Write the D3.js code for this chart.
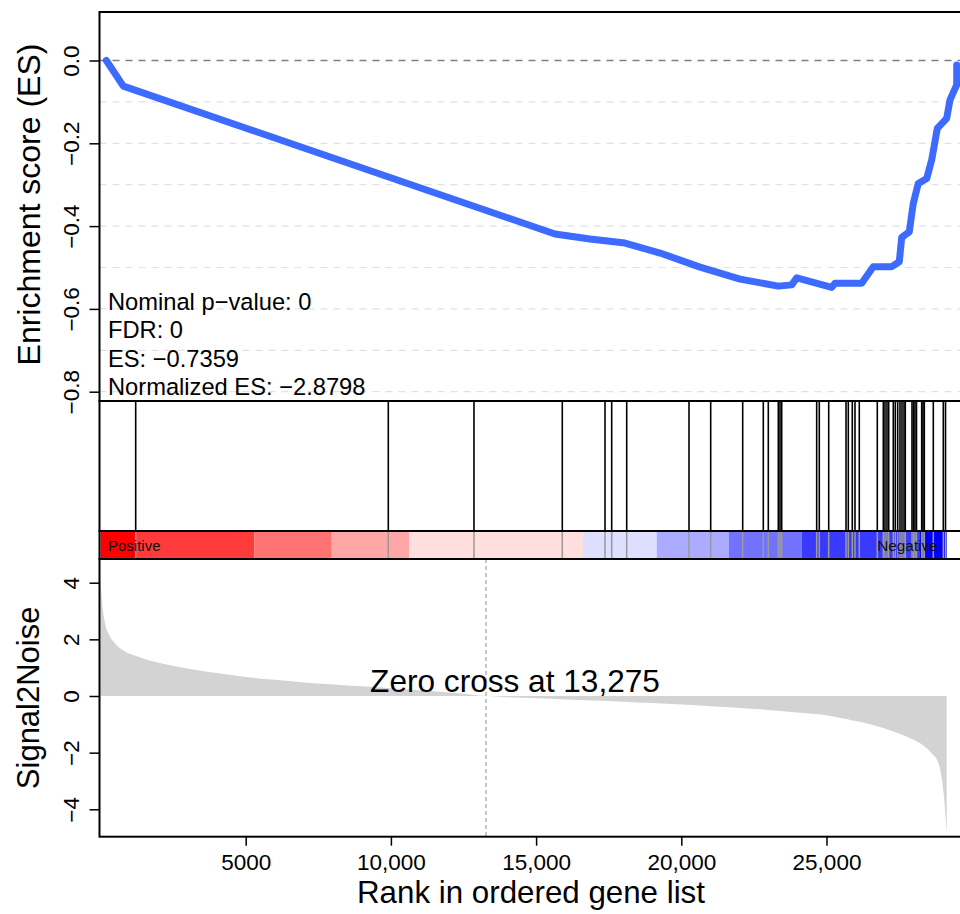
<!DOCTYPE html>
<html>
<head>
<meta charset="utf-8">
<script src="https://cdn.jsdelivr.net/npm/d3@7"></script>
<style>
  html, body { margin: 0; padding: 0; background: #fff; }
  svg { display: block; font-family: "Liberation Sans", Arial, Helvetica, sans-serif; }
</style>
</head>
<body>
<svg id="chart" width="960" height="914"></svg>
<script>
// ---------------- DATA ----------------
// Running enrichment score (rank in ordered list, ES)
const esRank  = [200, 785, 15649, 16856, 18061, 19267, 20645, 22022, 23340, 23802, 23974, 25179, 25293, 26212, 26611, 27245, 27507, 27590, 27851, 27937, 27989, 28161, 28451, 28623, 28816, 29139, 29253, 29484, 29484];
const esValue = [0, -0.062, -0.419, -0.431, -0.441, -0.465, -0.499, -0.528, -0.545, -0.542, -0.525, -0.548, -0.538, -0.538, -0.498, -0.498, -0.486, -0.427, -0.414, -0.370, -0.345, -0.297, -0.285, -0.240, -0.164, -0.140, -0.095, -0.059, -0.011];

// Ranks of gene-set members (hits)
const hitRanks = [1212, 9910, 12861, 15902, 17373, 17603, 18120, 20265, 21012, 22114, 22824, 22996, 23340, 23399, 23457,
  24662, 24752, 25076, 25672, 25751, 25888, 25981, 26129, 26749, 26956, 27014, 27083, 27142, 27300, 27369, 27452,
  27531, 27600, 27669, 27713, 27944, 27996, 28047, 28099, 28278, 28323, 28368, 28678, 29022, 29098];

// Ranked list metric (Signal2Noise)
const s2nRank  = [0, 40, 150, 300, 500, 800, 1200, 1600, 2200, 3000, 4000, 5000, 6000, 7000, 8000, 9000, 10000, 11000, 12000, 13275,
  14000, 15000, 16000, 17000, 18000, 19000, 20000, 21000, 22000, 23000, 24000, 25000, 25400, 26500, 27300, 27900, 28300, 28600, 28850, 28960, 29050, 29100, 29139];
const s2nValue = [4.2, 3.5, 2.6, 2.15, 1.85, 1.6, 1.42, 1.28, 1.13, 0.97, 0.81, 0.67, 0.57, 0.48, 0.41, 0.34, 0.27, 0.2, 0.12, 0,
  -0.04, -0.08, -0.12, -0.16, -0.2, -0.25, -0.3, -0.36, -0.42, -0.49, -0.58, -0.68, -0.76, -1.0, -1.25, -1.5, -1.72, -2.0, -2.35, -2.85, -3.6, -4.3, -4.9];

// Colour bar segments (start/end ranks) and colours
const barStart  = [0, 1212, 5296, 7961, 10634, 16615, 19153, 21642, 24146, 28220];
const barEnd    = [1212, 5296, 7961, 10634, 16615, 19153, 21642, 24146, 28220, 29139];
const barColors = ["#FF0000", "#FF3A3A", "#FF7272", "#FFA6A6", "#FFDEDE", "#DEDEFF", "#ABABFF", "#7272FF", "#3A3AFF", "#0000FF"];

const zeroCross = 13275;
const esTicks = [0, -0.2, -0.4, -0.6, -0.8];
const esTickLabels = ["0.0", "\u22120.2", "\u22120.4", "\u22120.6", "\u22120.8"];
const esGrid = [-0.1, -0.2, -0.3, -0.4, -0.5, -0.6, -0.7, -0.8];
const s2nTicks = [4, 2, 0, -2, -4];
const s2nTickLabels = ["4", "2", "0", "\u22122", "\u22124"];
const rankTicks = [5000, 10000, 15000, 20000, 25000];
const rankTickLabels = ["5000", "10,000", "15,000", "20,000", "25,000"];
const statLines = ["Nominal p\u2212value: 0", "FDR: 0", "ES: \u22120.7359", "Normalized ES: \u22122.8798"];

// ---------------- LAYOUT ----------------
const svg = d3.select("#chart");
svg.append("rect").attr("width", 960).attr("height", 914).attr("fill", "#fff");

const L = 99.5, R = 980;
const top1 = 12, bot1 = 401, bot2 = 531, bot3 = 559, bot4 = 836.7;

const x = d3.scaleLinear().domain([0, 30000]).range([100.5, 100.5 + 30000 * 0.02904]);
const yES = d3.scaleLinear().domain([0, -0.8]).range([60.5, 391.7]);
const yS = d3.scaleLinear().domain([4, -4]).range([582.7, 809.3]);

svg.append("clipPath").attr("id", "clipTop")
  .append("rect").attr("x", L).attr("y", top1).attr("width", R - L).attr("height", bot1 - top1);

// ----- Top panel: grid -----
const g1 = svg.append("g");
g1.selectAll("line.grid").data(esGrid).join("line")
  .attr("x1", L).attr("x2", R)
  .attr("y1", d => yES(d)).attr("y2", d => yES(d))
  .attr("stroke", "#e2e2e2").attr("stroke-width", 1.2).attr("stroke-dasharray", "7,6");
g1.append("line")
  .attr("x1", L).attr("x2", R).attr("y1", yES(0)).attr("y2", yES(0))
  .attr("stroke", "#808080").attr("stroke-width", 1.6).attr("stroke-dasharray", "7,6");

// ES curve
const esData = esRank.map((r, i) => [r, esValue[i]]);
g1.append("path")
  .datum(esData)
  .attr("clip-path", "url(#clipTop)")
  .attr("d", d3.line().x(d => x(d[0])).y(d => yES(d[1])))
  .attr("fill", "none").attr("stroke", "#3E6BFF").attr("stroke-width", 7)
  .attr("stroke-linejoin", "round").attr("stroke-linecap", "round");

// stats text
g1.selectAll("text.stat").data(statLines).join("text")
  .attr("x", 108).attr("y", (d, i) => 310 + i * 28.3)
  .attr("font-size", 23.7).attr("fill", "#000").text(d => d);

// top axis
const axES = svg.append("g").attr("transform", `translate(${L},0)`)
  .call(d3.axisLeft(yES).tickValues(esTicks).tickFormat((d, i) => esTickLabels[i]).tickSize(10));
axES.select(".domain").remove();
axES.selectAll(".tick line").attr("stroke", "#000").attr("stroke-width", 1.5);
axES.selectAll(".tick text")
  .attr("x", 0).attr("dy", 0).attr("text-anchor", "middle")
  .attr("transform", "translate(-20.5,0) rotate(-90)")
  .attr("font-size", 22.5).attr("fill", "#000").attr("font-family", "Liberation Sans, Arial, sans-serif");

svg.append("text").attr("transform", `translate(40,${(top1 + bot1) / 2 - 2}) rotate(-90)`)
  .attr("text-anchor", "middle").attr("font-size", 32).text("Enrichment score (ES)");

// ----- Hits panel -----
const g2 = svg.append("g");
g2.selectAll("line.hit").data(hitRanks).join("line")
  .attr("x1", d => x(d)).attr("x2", d => x(d))
  .attr("y1", bot1).attr("y2", bot2)
  .attr("stroke", "#000").attr("stroke-width", 1.6);

// ----- Colour bar -----
const g3 = svg.append("g");
g3.selectAll("rect.seg").data(barColors).join("rect")
  .attr("x", (d, i) => x(barStart[i])).attr("y", bot2)
  .attr("width", (d, i) => x(barEnd[i]) - x(barStart[i])).attr("height", bot3 - bot2)
  .attr("fill", d => d);
g3.selectAll("line.hitbar").data(hitRanks).join("line")
  .attr("x1", d => x(d)).attr("x2", d => x(d))
  .attr("y1", bot2).attr("y2", bot3)
  .attr("stroke", "#9a9a9a").attr("stroke-width", 1.5);
g3.append("text").attr("x", 108).attr("y", 551).attr("font-size", 15).attr("fill", "#111").text("Positive");
g3.append("text").attr("x", x(29139) - 9).attr("y", 551).attr("text-anchor", "end").attr("font-size", 15.3).attr("fill", "#111").text("Negative");

// ----- Bottom panel -----
const g4 = svg.append("g");
const s2nData = s2nRank.map((r, i) => [r, s2nValue[i]]);
g4.append("path").datum(s2nData)
  .attr("d", d3.area().curve(d3.curveMonotoneX).x(d => x(d[0])).y0(yS(0)).y1(d => yS(d[1])))
  .attr("fill", "#D3D3D3");
g4.append("line").attr("x1", x(zeroCross)).attr("x2", x(zeroCross))
  .attr("y1", bot3).attr("y2", bot4)
  .attr("stroke", "#9a9a9a").attr("stroke-width", 1.1).attr("stroke-dasharray", "4,3");
g4.append("text").attr("x", 515).attr("y", 692).attr("text-anchor", "middle")
  .attr("font-size", 31.6).text("Zero cross at 13,275");

const axS = svg.append("g").attr("transform", `translate(${L},0)`)
  .call(d3.axisLeft(yS).tickValues(s2nTicks).tickFormat((d, i) => s2nTickLabels[i]).tickSize(10));
axS.select(".domain").remove();
axS.selectAll(".tick line").attr("stroke", "#000").attr("stroke-width", 1.5);
axS.selectAll(".tick text")
  .attr("x", 0).attr("dy", 0).attr("text-anchor", "middle")
  .attr("transform", "translate(-20.5,0) rotate(-90)")
  .attr("font-size", 22.5).attr("fill", "#000").attr("font-family", "Liberation Sans, Arial, sans-serif");

svg.append("text").attr("transform", `translate(39,${(bot3 + bot4) / 2}) rotate(-90)`)
  .attr("text-anchor", "middle").attr("font-size", 31).text("Signal2Noise");

const axX = svg.append("g").attr("transform", `translate(0,${bot4})`)
  .call(d3.axisBottom(x).tickValues(rankTicks).tickFormat((d, i) => rankTickLabels[i]).tickSize(9).tickPadding(4));
axX.select(".domain").remove();
axX.selectAll(".tick line").attr("stroke", "#000").attr("stroke-width", 1.5);
axX.selectAll(".tick text").attr("y", 33.5).attr("dy", 0)
  .attr("font-size", 22.5).attr("fill", "#000").attr("font-family", "Liberation Sans, Arial, sans-serif");

svg.append("text").attr("x", 531).attr("y", 903).attr("text-anchor", "middle")
  .attr("font-size", 31.3).text("Rank in ordered gene list");

// ----- Panel borders -----
const borders = [[top1, bot1], [bot1, bot2], [bot2, bot3], [bot3, bot4]];
svg.selectAll("rect.box").data(borders).join("rect")
  .attr("x", L).attr("y", d => d[0]).attr("width", R - L).attr("height", d => d[1] - d[0])
  .attr("fill", "none").attr("stroke", "#000").attr("stroke-width", 2);
</script>
</body>
</html>
